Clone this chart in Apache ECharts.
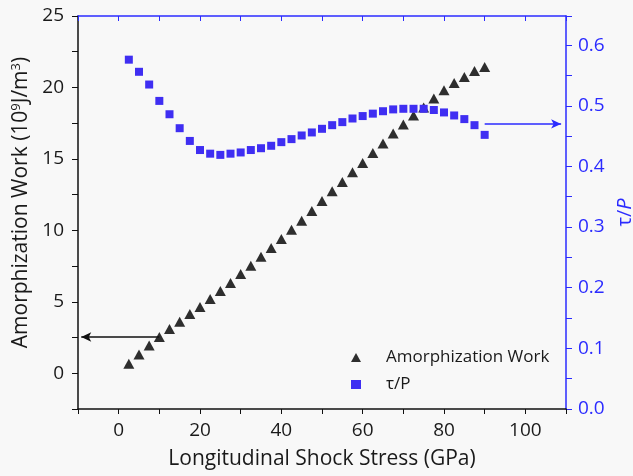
<!DOCTYPE html>
<html>
<head>
<meta charset="utf-8">
<script src="https://cdn.jsdelivr.net/npm/echarts@6/dist/echarts.min.js"></script>
<style>
  html, body { margin: 0; padding: 0; background: #f8f8f8; }
  #chart { width: 633px; height: 476px; }
</style>
</head>
<body>
<div id="chart"></div>
<script>
// shock stress (GPa), same for both series
const stress = [2.5, 5, 7.5, 10, 12.5, 15, 17.5, 20, 22.5, 25, 27.5, 30, 32.5, 35, 37.5, 40, 42.5, 45,
  47.5, 50, 52.5, 55, 57.5, 60, 62.5, 65, 67.5, 70, 72.5, 75, 77.5, 80, 82.5, 85, 87.5, 90]

// amorphization work (10^9 J/m^3), left axis
const work = [0.67, 1.32, 1.95, 2.54, 3.1, 3.6, 4.15, 4.64, 5.2, 5.76, 6.32, 6.95, 7.53, 8.16, 8.77, 9.4, 10.05, 10.68,
  11.36, 12.06, 12.74, 13.39, 14.07, 14.72, 15.42, 16.08, 16.78, 17.41, 18.04, 18.6, 19.23, 19.81, 20.32, 20.74, 21.16, 21.44]

// tau / P, right axis
const tauP = [0.576, 0.556, 0.535, 0.508, 0.486, 0.463, 0.442, 0.427, 0.421, 0.419, 0.421, 0.423, 0.427, 0.430, 0.434, 0.440, 0.445, 0.451,
  0.456, 0.462, 0.468, 0.473, 0.479, 0.483, 0.487, 0.491, 0.494, 0.495, 0.495, 0.495, 0.493, 0.489, 0.484, 0.478, 0.468, 0.452]

const xLabels = [0, 20, 40, 60, 80, 100]
const leftLabels = [0, 5, 10, 15, 20, 25]

// arrows pointing to the axis each series belongs to
const workArrow = [[10, 2.54], [-9.2, 2.54]]
const tauArrow = [[90, 0.47], [108.8, 0.47]]

const FONT = 'Open Sans'
const BLUE = '#2b2bff'
const SQUARE = '#3f2ef2'
const DARK = '#2e2e2e'
const TEXT = '#1a1a1a'

const chart = echarts.init(document.getElementById('chart'))

function pairs(xs, ys) {
  return xs.map((x, i) => [x, ys[i]])
}

chart.setOption({
  backgroundColor: '#f8f8f8',
  animation: false,
  textStyle: { fontFamily: FONT },
  grid: { left: 78, right: 67, top: 16, bottom: 67, outerBoundsMode: 'none' },
  legend: {
    orient: 'vertical',
    left: 346,
    top: 344,
    itemWidth: 10,
    itemHeight: 9,
    itemGap: 10,
    textStyle: { fontFamily: FONT, fontSize: 17, color: TEXT, padding: [0, 0, 0, 20] },
    data: [
      { name: 'Amorphization Work', icon: 'triangle' },
      { name: 'τ/P', icon: 'rect' }
    ]
  },
  xAxis: [
    {
      type: 'value',
      min: -10,
      max: 110,
      interval: 10,
      name: 'Longitudinal Shock Stress (GPa)',
      nameLocation: 'middle',
      nameGap: 40,
      nameTextStyle: { fontSize: 21, color: TEXT, fontFamily: FONT },
      axisLine: { onZero: false, lineStyle: { color: '#111', width: 1.5 } },
      axisTick: { inside: false, length: 5, lineStyle: { color: '#111' } },
      axisLabel: {
        margin: 12,
        fontSize: 19,
        color: TEXT,
        fontFamily: FONT,
        formatter: v => (xLabels.includes(v) ? String(v) : '')
      },
      splitLine: { show: false }
    },
    {
      type: 'value',
      position: 'top',
      min: -10,
      max: 110,
      interval: 10,
      axisLine: { onZero: false, lineStyle: { color: BLUE, width: 1.5 } },
      axisTick: { inside: true, length: 5, lineStyle: { color: BLUE } },
      axisLabel: { show: false },
      splitLine: { show: false }
    }
  ],
  yAxis: [
    {
      type: 'value',
      position: 'left',
      min: -2.5,
      max: 25,
      interval: 2.5,
      name: 'Amorphization Work (10{sup|9}J/m{sup|3})',
      nameLocation: 'middle',
      nameGap: 44,
      nameTextStyle: {
        fontSize: 21,
        color: TEXT,
        fontFamily: FONT,
        padding: [0, 0, 0, 20],
        rich: {
          sup: { fontSize: 13, color: TEXT, fontFamily: FONT, verticalAlign: 'top', padding: [0, 0, 9, 0] }
        }
      },
      axisLine: { onZero: false, lineStyle: { color: '#111', width: 1.5 } },
      axisTick: { inside: false, length: 6, lineStyle: { color: '#111' } },
      axisLabel: {
        margin: 14,
        fontSize: 19,
        color: TEXT,
        fontFamily: FONT,
        formatter: v => (leftLabels.includes(v) ? String(v) : '')
      },
      splitLine: { show: false }
    },
    {
      type: 'value',
      position: 'right',
      min: 0,
      max: 0.648,
      interval: 0.05,
      name: '{n|τ/}{i|P}',
      nameLocation: 'middle',
      nameGap: 48,
      nameTextStyle: {
        rich: {
          n: { fontSize: 20, color: BLUE, fontFamily: FONT },
          i: { fontSize: 20, color: BLUE, fontFamily: FONT, fontStyle: 'italic' }
        }
      },
      axisLine: { onZero: false, lineStyle: { color: BLUE, width: 1.5 } },
      axisTick: { inside: false, length: 6, lineStyle: { color: BLUE } },
      axisLabel: {
        margin: 12,
        fontSize: 19,
        color: BLUE,
        fontFamily: FONT,
        formatter: v => {
          const r = Math.round(v * 10)
          return Math.abs(v * 10 - r) < 1e-6 ? (r / 10).toFixed(1) : ''
        }
      },
      splitLine: { show: false }
    }
  ],
  series: [
    {
      name: 'Amorphization Work',
      type: 'scatter',
      xAxisIndex: 0,
      yAxisIndex: 0,
      symbol: 'triangle',
      symbolSize: [11, 10],
      itemStyle: { color: DARK, opacity: 1 },
      data: pairs(stress, work),
      markLine: {
        silent: true,
        symbol: ['none', 'arrow'],
        symbolSize: [7, 10],
        label: { show: false },
        lineStyle: { color: '#111', type: 'solid', width: 1.5 },
        data: [[{ coord: workArrow[0] }, { coord: workArrow[1] }]]
      }
    },
    {
      name: 'τ/P',
      type: 'scatter',
      xAxisIndex: 0,
      yAxisIndex: 1,
      symbol: 'rect',
      symbolSize: 8,
      itemStyle: { color: SQUARE, opacity: 1 },
      data: pairs(stress, tauP),
      markLine: {
        silent: true,
        symbol: ['none', 'arrow'],
        symbolSize: [7, 10],
        label: { show: false },
        lineStyle: { color: BLUE, type: 'solid', width: 1.5 },
        data: [[{ coord: tauArrow[0] }, { coord: tauArrow[1] }]]
      }
    }
  ]
})
</script>
</body>
</html>
